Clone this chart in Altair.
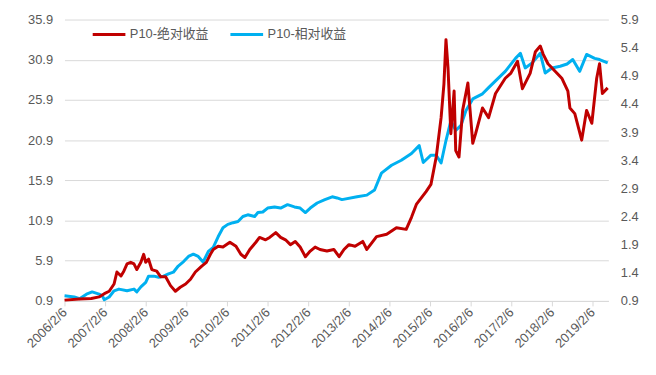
import altair as alt
import pandas as pd

# Dates as decimal years
# P10-绝对收益 (left axis)
red_years = [
    2006.10, 2006.47, 2006.76, 2006.95, 2007.08, 2007.20, 2007.32, 2007.39, 2007.49, 2007.56,
    2007.64, 2007.73, 2007.81, 2007.88, 2007.98, 2008.05, 2008.10, 2008.17, 2008.25, 2008.37,
    2008.47, 2008.59, 2008.71, 2008.83, 2008.95, 2009.08, 2009.20, 2009.32, 2009.47, 2009.59,
    2009.69, 2009.76, 2009.88, 2010.00, 2010.17, 2010.32, 2010.44, 2010.54, 2010.66, 2010.81,
    2010.90, 2011.05, 2011.15, 2011.30, 2011.42, 2011.54, 2011.66, 2011.78, 2011.90, 2012.03,
    2012.15, 2012.27, 2012.39, 2012.56, 2012.73, 2012.86, 2012.98, 2013.10, 2013.25, 2013.44,
    2013.54, 2013.78, 2014.03, 2014.27, 2014.51, 2014.64, 2014.76, 2015.00, 2015.12, 2015.25,
    2015.37, 2015.44, 2015.49, 2015.54, 2015.61, 2015.69, 2015.73, 2015.81, 2015.90, 2016.03,
    2016.15, 2016.22, 2016.39, 2016.54, 2016.71, 2016.95, 2017.08, 2017.25, 2017.37, 2017.56,
    2017.69, 2017.81, 2017.88, 2018.00, 2018.17, 2018.34, 2018.49, 2018.54, 2018.66, 2018.83,
    2018.95, 2019.08, 2019.20, 2019.27, 2019.34, 2019.47,
]
red_vals = [
    1.0, 1.15, 1.2, 1.4, 1.8, 2.1, 3.0, 4.5, 4.0, 4.6,
    5.5, 5.7, 5.5, 4.8, 5.7, 6.7, 5.7, 6.1, 4.8, 4.6,
    3.9, 3.9, 2.8, 2.1, 2.6, 3.0, 3.6, 4.5, 5.2, 5.7,
    6.7, 7.3, 7.7, 7.6, 8.2, 7.7, 6.7, 6.3, 7.3, 8.2,
    8.8, 8.5, 8.8, 9.4, 8.8, 8.5, 7.9, 8.3, 7.6, 6.4,
    7.1, 7.6, 7.3, 7.1, 7.3, 6.4, 7.3, 7.9, 7.7, 8.3,
    7.3, 8.9, 9.2, 10.0, 9.8, 11.3, 12.9, 14.5, 15.4, 18.8,
    23.7, 27.9, 33.4, 29.9, 21.7, 27.0, 19.6, 18.8, 24.6, 28.0,
    20.5, 21.7, 24.9, 23.7, 26.7, 28.6, 29.2, 30.7, 27.3, 29.2,
    31.9, 32.6, 31.6, 30.4, 29.5, 28.6, 27.0, 24.9, 24.2, 20.9,
    24.6, 23.0, 28.6, 30.4, 26.7, 27.4,
]

# P10-相对收益 (right axis)
blue_years = [
    2006.10, 2006.34, 2006.47, 2006.64, 2006.78, 2006.95, 2007.03, 2007.08, 2007.20, 2007.32,
    2007.44, 2007.64, 2007.81, 2007.88, 2007.98, 2008.10, 2008.17, 2008.30, 2008.42, 2008.54,
    2008.66, 2008.78, 2008.90, 2009.03, 2009.15, 2009.27, 2009.39, 2009.51, 2009.64, 2009.76,
    2009.88, 2010.00, 2010.12, 2010.25, 2010.37, 2010.49, 2010.61, 2010.78, 2010.86, 2010.98,
    2011.10, 2011.27, 2011.42, 2011.59, 2011.76, 2011.90, 2012.03, 2012.15, 2012.32, 2012.51,
    2012.69, 2012.81, 2012.93, 2013.30, 2013.54, 2013.73, 2013.90, 2014.15, 2014.39, 2014.64,
    2014.83, 2014.93, 2015.12, 2015.25, 2015.37, 2015.49, 2015.61, 2015.73, 2015.86, 2015.98,
    2016.15, 2016.39, 2016.54, 2016.71, 2016.95, 2017.20, 2017.32, 2017.44, 2017.61, 2017.81,
    2017.93, 2018.10, 2018.30, 2018.47, 2018.61, 2018.78, 2018.95, 2019.15, 2019.27, 2019.47,
]
blue_vals = [
    0.99, 0.97, 0.94, 1.02, 1.06, 1.02, 0.99, 0.92, 0.97, 1.08,
    1.11, 1.08, 1.11, 1.06, 1.15, 1.23, 1.34, 1.34, 1.32, 1.34,
    1.38, 1.41, 1.52, 1.60, 1.69, 1.73, 1.69, 1.59, 1.78, 1.85,
    2.04, 2.20, 2.26, 2.29, 2.31, 2.40, 2.43, 2.40, 2.47, 2.48,
    2.55, 2.57, 2.55, 2.61, 2.57, 2.55, 2.47, 2.55, 2.64, 2.70,
    2.75, 2.73, 2.70, 2.75, 2.78, 2.87, 3.17, 3.31, 3.40, 3.52,
    3.66, 3.36, 3.49, 3.49, 3.35, 3.75, 4.10, 3.93, 4.02, 4.28,
    4.49, 4.58, 4.69, 4.81, 4.98, 5.21, 5.30, 5.04, 5.13, 5.30,
    4.95, 5.04, 5.07, 5.11, 5.19, 4.98, 5.28, 5.21, 5.19, 5.13,
]

series_names = ["P10-绝对收益", "P10-相对收益"]
series_colors = ["#C00000", "#00B0F0"]
left_ticks = [0.9, 5.9, 10.9, 15.9, 20.9, 25.9, 30.9, 35.9]
right_ticks = [0.9, 1.4, 1.9, 2.4, 2.9, 3.4, 3.9, 4.4, 4.9, 5.4, 5.9]
x_ticks = [f"{y}-02-06" for y in range(2006, 2020)]


def to_ts(years):
    out = []
    for y in years:
        base = pd.Timestamp(year=int(y), month=1, day=1)
        out.append(base + pd.Timedelta(days=(y - int(y)) * 365.25))
    return out


red_df = pd.DataFrame({"date": to_ts(red_years), "value": red_vals, "series": series_names[0]})
blue_df = pd.DataFrame({"date": to_ts(blue_years), "value": blue_vals, "series": series_names[1]})
df = pd.concat([red_df, blue_df], ignore_index=True)

FONT = "Liberation Sans, Noto Sans CJK SC, sans-serif"
TXT = "#595959"

x_enc = alt.X(
    "date:T",
    scale=alt.Scale(domain=["2006-02-06", "2019-06-28"]),
    axis=alt.Axis(
        values=[pd.Timestamp(d).isoformat() for d in x_ticks],
        format="%Y/%-m/%-d",
        formatType="time",
        labelAngle=-45,
        labelAlign="right",
        labelBaseline="middle",
        labelPadding=4,
        grid=False,
        domainColor="#d9d9d9",
        tickColor="#d9d9d9",
        tickSize=5,
        labelFontSize=13,
        labelColor=TXT,
        labelFont=FONT,
        title=None,
        labelOverlap=False,
    ),
)

color_enc = alt.Color(
    "series:N",
    scale=alt.Scale(domain=series_names, range=series_colors),
    legend=alt.Legend(
        title=None,
        orient="none",
        direction="horizontal",
        legendX=27,
        legendY=-3,
        symbolType="stroke",
        symbolStrokeWidth=3,
        symbolSize=1089,
        labelFontSize=13,
        labelColor=TXT,
        labelFont=FONT,
        columnPadding=15,
        labelOffset=3,
    ),
)

left = alt.Chart(df).transform_filter(
    alt.datum.series == series_names[0]
).mark_line(strokeWidth=3, strokeJoin="round").encode(
    x=x_enc,
    y=alt.Y(
        "value:Q",
        scale=alt.Scale(domain=[0.9, 35.9], nice=False, zero=False),
        axis=alt.Axis(
            values=left_ticks, format=".1f", orient="left", grid=True,
            gridColor="#d9d9d9", domain=False, ticks=False, labelPadding=12,
            labelFontSize=13, labelColor=TXT, labelFont=FONT, title=None,
        ),
    ),
    color=color_enc,
)

right = alt.Chart(df).transform_filter(
    alt.datum.series == series_names[1]
).mark_line(strokeWidth=3, strokeJoin="round").encode(
    x=x_enc,
    y=alt.Y(
        "value:Q",
        scale=alt.Scale(domain=[0.9, 5.9], nice=False, zero=False),
        axis=alt.Axis(
            values=right_ticks, format=".1f", orient="right", grid=False,
            domain=False, ticks=False, labelPadding=12,
            labelFontSize=13, labelColor=TXT, labelFont=FONT, title=None,
        ),
    ),
    color=color_enc,
)

chart = alt.layer(right, left).resolve_scale(y="independent").properties(
    width=549,
    height=284,
    autosize=alt.AutoSizeParams(type="none"),
    padding={"left": 57, "top": 10, "right": 40, "bottom": 60},
).configure_view(stroke=None)

chart.save("out.html", embed_options={"renderer": "svg", "actions": False})
